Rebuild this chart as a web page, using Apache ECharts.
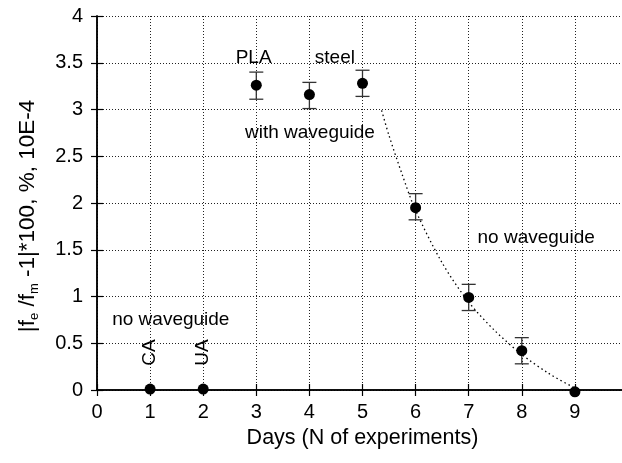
<!DOCTYPE html>
<html>
<head>
<meta charset="utf-8">
<script src="https://cdn.jsdelivr.net/npm/echarts@6/dist/echarts.min.js"></script>
<style>
html,body{margin:0;padding:0;background:#fff;}
#c{width:622px;height:463px;}
</style>
</head>
<body>
<div id="c"></div>
<script>
// ---- data ----
var days      = [1, 2, 3, 4, 5, 6, 7, 8, 9];
var values    = [0.01, 0.01, 3.26, 3.16, 3.28, 1.95, 0.99, 0.42, -0.02];
var errLow    = [null, null, 3.11, 3.01, 3.14, 1.82, 0.85, 0.28, null];
var errHigh   = [null, null, 3.40, 3.29, 3.42, 2.10, 1.13, 0.56, null];
var fitX      = [5.36, 5.5, 5.75, 6.0, 6.5, 7.0, 7.5, 8.0, 8.5, 9.0, 9.19];
var fitY      = [2.99, 2.72, 2.30, 1.92, 1.36, 0.94, 0.63, 0.38, 0.18, 0.02, -0.03];
var xTicks    = [0, 1, 2, 3, 4, 5, 6, 7, 8, 9];
var yTicks    = [0, 0.5, 1, 1.5, 2, 2.5, 3, 3.5, 4];
var noteText  = ['PLA', 'steel', 'with waveguide', 'no waveguide', 'no waveguide'];
var noteX     = [2.95, 4.48, 4.01, 8.27, 1.39];
var noteY     = [3.55, 3.55, 2.75, 1.63, 0.75];
var rotText   = ['CA', 'UA'];
var rotX      = [1, 2];
var rotY      = [0.40, 0.40];

var FONT = "'Liberation Sans', Arial, Helvetica, sans-serif";
var chart = echarts.init(document.getElementById('c'), null, {renderer: 'canvas'});

var points = days.map(function (d, i) { return [d, values[i]]; });
var bars = [];
days.forEach(function (d, i) {
  if (errLow[i] !== null) bars.push([d, errLow[i], errHigh[i]]);
});
var fit = fitX.map(function (x, i) { return [x, fitY[i]]; });
var notes = noteText.map(function (t, i) { return [noteX[i], noteY[i], t]; });
var rots = rotText.map(function (t, i) { return [rotX[i], rotY[i], t]; });

var gridLine = {show: true, lineStyle: {color: '#222', width: 1, type: [1, 2]}};
var axLine = {show: true, lineStyle: {color: '#000', width: 1.5}};
var axTick = {show: true, inside: true, length: 6, lineStyle: {color: '#000', width: 1.2}};

chart.setOption({
  animation: false,
  backgroundColor: '#fff',
  textStyle: {fontFamily: FONT},
  grid: {left: 97, top: 16, right: -6, bottom: 73, containLabel: false, outerBoundsMode: 'none'},
  xAxis: [{
    type: 'value', min: 0, max: 10, interval: 1, position: 'bottom',
    axisLine: axLine, axisTick: axTick, splitLine: gridLine,
    axisLabel: {
      fontSize: 20, color: '#000', margin: 12, fontFamily: FONT,
      formatter: function (v) { return xTicks.indexOf(v) >= 0 ? String(v) : ''; }
    },
    name: 'Days (N of experiments)', nameLocation: 'middle', nameGap: 35,
    nameTextStyle: {fontSize: 21.5, color: '#000', fontFamily: FONT}
  }, {
    type: 'value', min: 0, max: 10, interval: 1, position: 'top',
    axisLine: axLine, axisTick: axTick, splitLine: {show: false}, axisLabel: {show: false}
  }],
  yAxis: [{
    type: 'value', min: 0, max: 4, interval: 0.5, position: 'left',
    axisLine: axLine, axisTick: axTick, splitLine: gridLine,
    axisLabel: {
      fontSize: 20, color: '#000', margin: 14, fontFamily: FONT,
      formatter: function (v) { return yTicks.indexOf(v) >= 0 ? String(v) : ''; }
    },
    name: '{n||f}{s|e}{n| /f}{s|m}{n| -1|*100, %, 10E-4}{pad| }',
    nameLocation: 'middle', nameGap: 56, nameRotate: 90,
    nameTextStyle: {
      color: '#000', fontFamily: FONT,
      rich: {
        n: {fontSize: 22.5, color: '#000', fontFamily: FONT, lineHeight: 27},
        s: {fontSize: 13, color: '#000', fontFamily: FONT, verticalAlign: 'bottom', lineHeight: 27},
        pad: {fontSize: 22, width: 26, lineHeight: 27}
      }
    }
  }, {
    type: 'value', min: 0, max: 4, interval: 0.5, position: 'right',
    axisLine: axLine, axisTick: axTick, splitLine: {show: false}, axisLabel: {show: false}
  }],
  series: [{
    type: 'line', data: fit, showSymbol: false, smooth: 0.3,
    lineStyle: {color: '#000', width: 1.3, type: [1.5, 3]}, z: 2
  }, {
    type: 'custom', data: bars, z: 3,
    renderItem: function (params, api) {
      var x = api.value(0);
      var lo = api.coord([x, api.value(1)]);
      var hi = api.coord([x, api.value(2)]);
      var w = 7;
      var st = {stroke: '#333', lineWidth: 1.3};
      return {type: 'group', children: [
        {type: 'line', shape: {x1: lo[0], y1: lo[1], x2: hi[0], y2: hi[1]}, style: st},
        {type: 'line', shape: {x1: lo[0] - w, y1: lo[1], x2: lo[0] + w, y2: lo[1]}, style: st},
        {type: 'line', shape: {x1: hi[0] - w, y1: hi[1], x2: hi[0] + w, y2: hi[1]}, style: st}
      ]};
    }
  }, {
    type: 'scatter', data: points, symbol: 'circle', symbolSize: 11, clip: false,
    itemStyle: {color: '#000', opacity: 1}, z: 4
  }, {
    type: 'scatter', data: notes, symbolSize: 0, z: 5, silent: true,
    itemStyle: {opacity: 1},
    label: {
      show: true, position: 'inside', color: '#000', fontSize: 19, fontFamily: FONT,
      formatter: function (p) { return p.value[2]; }
    }
  }, {
    type: 'scatter', data: rots, symbolSize: 0, z: 5, silent: true,
    itemStyle: {opacity: 1},
    label: {
      show: true, position: 'inside', rotate: 90, color: '#000', fontSize: 19, fontFamily: FONT,
      formatter: function (p) { return p.value[2]; }
    }
  }]
});
</script>
</body>
</html>
